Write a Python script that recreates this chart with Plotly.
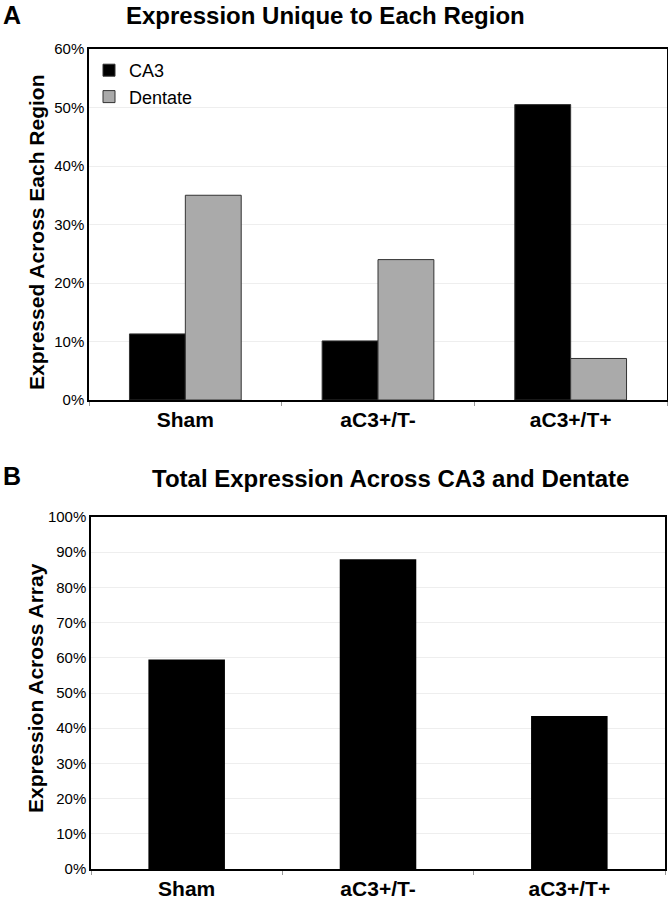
import plotly.graph_objects as go

categories = ["Sham", "aC3+/T-", "aC3+/T+"]
ca3_unique = [11.3, 10.1, 50.5]
dentate_unique = [35.0, 24.0, 7.1]
total_expression = [59.5, 88.0, 43.5]

W, H = 668, 900
def fx(px): return px / W
def fy(py): return 1 - py / H

FONT = "Liberation Sans, Arial, sans-serif"

fig = go.Figure()
fig.add_trace(go.Bar(x=categories, y=ca3_unique, name="CA3", marker=dict(color="#000000", line=dict(color="#333333", width=1)),
                     xaxis="x", yaxis="y"))
fig.add_trace(go.Bar(x=categories, y=dentate_unique, name="Dentate", marker=dict(color="#aaaaaa", line=dict(color="#333333", width=1)),
                     xaxis="x", yaxis="y"))
fig.add_trace(go.Bar(x=categories, y=total_expression, name="Total", showlegend=False,
                     marker=dict(color="#000000", line=dict(color="#000000", width=0)),
                     xaxis="x2", yaxis="y2", width=0.4))

axis_common = dict(showline=True, linecolor="black", linewidth=1.5, mirror=True, automargin=False)
xcommon = dict(tickson="boundaries", ticks="outside", ticklen=4, tickcolor="#999999",
               tickfont=dict(size=21, family=FONT, weight="bold"), showgrid=False, **axis_common)
ycommon = dict(tickfont=dict(size=15), showgrid=True, gridcolor="#eeeeee", gridwidth=1, ticks="", zeroline=False,
               **axis_common)
fig.update_layout(
    width=W, height=H,
    margin=dict(l=0, r=0, t=0, b=0),
    paper_bgcolor="white", plot_bgcolor="white",
    barmode="group", bargap=0.42, bargroupgap=0,
    font=dict(family=FONT, color="black"),
    xaxis=dict(domain=[fx(89), fx(667)], anchor="y", **xcommon),
    yaxis=dict(domain=[fy(400), fy(49)], anchor="x", range=[0, 60], tickvals=[0, 10, 20, 30, 40, 50, 60],
               ticktext=["0%", "10%", "20%", "30%", "40%", "50%", "60%"], **ycommon),
    xaxis2=dict(domain=[fx(91), fx(665)], anchor="y2", **xcommon),
    yaxis2=dict(domain=[fy(869), fy(517)], anchor="x2", range=[0, 100], tickvals=list(range(0, 101, 10)),
                ticktext=[f"{v}%" for v in range(0, 101, 10)], **ycommon),
    legend=dict(x=fx(89), y=fy(52), xanchor="left", yanchor="top", bgcolor="rgba(0,0,0,0)",
                font=dict(size=18), tracegroupgap=0),
    annotations=[
        dict(text="<b>A</b>", x=fx(1), y=fy(15), xref="paper", yref="paper", xanchor="left", yanchor="middle",
             showarrow=False, font=dict(size=25)),
        dict(text="<b>Expression Unique to Each Region</b>", x=fx(325), y=fy(15), xref="paper", yref="paper",
             xanchor="center", yanchor="middle", showarrow=False, font=dict(size=24)),
        dict(text="<b>B</b>", x=fx(1), y=fy(476), xref="paper", yref="paper", xanchor="left", yanchor="middle",
             showarrow=False, font=dict(size=25)),
        dict(text="<b>Total Expression Across CA3 and Dentate</b>", x=fx(390), y=fy(478), xref="paper", yref="paper",
             xanchor="center", yanchor="middle", showarrow=False, font=dict(size=24)),
        dict(text="<b>Expressed Across Each Region</b>", x=fx(36), y=fy(232), xref="paper", yref="paper",
             xanchor="center", yanchor="middle", textangle=-90, showarrow=False, font=dict(size=21)),
        dict(text="<b>Expression Across Array</b>", x=fx(35), y=fy(688), xref="paper", yref="paper",
             xanchor="center", yanchor="middle", textangle=-90, showarrow=False, font=dict(size=21)),
    ],
)

fig.write_html("out.html", config={"displayModeBar": False},
               post_script="document.body.style.margin='0px';")
